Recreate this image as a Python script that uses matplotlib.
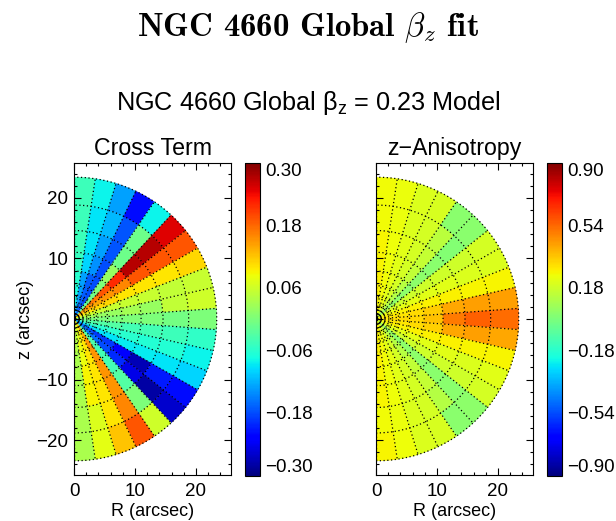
import numpy as np
import matplotlib
matplotlib.use("Agg")
import matplotlib.pyplot as plt
from matplotlib.patches import Wedge
from matplotlib.colors import Normalize
from matplotlib.cm import ScalarMappable

plt.rcParams['font.family'] = ['Liberation Sans', 'DejaVu Sans']
plt.rcParams['mathtext.fontset'] = 'custom'
plt.rcParams['mathtext.rm'] = 'Liberation Sans'
plt.rcParams['mathtext.it'] = 'Liberation Sans:italic'
plt.rcParams['mathtext.bf'] = 'Liberation Sans:bold'

# Polar bin grid (arcsec); sectors run from +90 deg (top) to -90 deg (bottom)
r_edges = [0.0, 0.15, 0.29, 0.52, 0.9, 1.5, 2.4, 3.7, 5.5, 7.9, 11.0, 14.6, 18.8, 23.4]
n_sectors = 21
theta_edges = np.linspace(90.0, -90.0, n_sectors + 1)

# Cross term per sector (rows, top -> bottom) and radial bin (inner -> outer)
cross_term = [
    [-0.08, -0.08, -0.08, -0.08, -0.08, -0.07, -0.07, -0.07, -0.06, -0.05, -0.045, -0.045, -0.045],
    [-0.12, -0.12, -0.12, -0.12, -0.12, -0.13, -0.13, -0.13, -0.13, -0.10, -0.09, -0.09, -0.08],
    [-0.15, -0.15, -0.15, -0.16, -0.16, -0.17, -0.17, -0.17, -0.17, -0.14, -0.13, -0.115, -0.13],
    [-0.16, -0.16, -0.17, -0.17, -0.18, -0.18, -0.18, -0.18, -0.18, -0.18, -0.175, -0.175, -0.22],
    [-0.06, -0.06, -0.05, -0.05, -0.04, -0.03, -0.02, -0.01, 0.00, 0.02, -0.01, -0.01, -0.08],
    [0.12, 0.12, 0.13, 0.14, 0.15, 0.15, 0.16, 0.17, 0.19, 0.22, 0.27, 0.27, 0.25],
    [0.12, 0.12, 0.12, 0.13, 0.13, 0.13, 0.14, 0.14, 0.15, 0.16, 0.19, 0.19, 0.19],
    [0.10, 0.10, 0.10, 0.10, 0.10, 0.10, 0.10, 0.11, 0.11, 0.10, 0.10, 0.10, 0.11],
    [0.06, 0.06, 0.06, 0.06, 0.06, 0.06, 0.06, 0.055, 0.055, 0.055, 0.055, 0.05, 0.055],
    [0.03, 0.03, 0.03, 0.03, 0.03, 0.03, 0.03, 0.02, 0.02, 0.03, 0.02, 0.05, 0.06],
    [-0.01, -0.01, -0.01, -0.01, 0.00, 0.00, 0.00, 0.00, 0.00, 0.00, 0.00, -0.005, 0.00],
    [-0.02, -0.02, -0.02, -0.02, -0.02, -0.02, -0.03, -0.03, -0.03, -0.04, -0.04, -0.045, -0.055],
    [-0.04, -0.04, -0.04, -0.05, -0.05, -0.05, -0.05, -0.06, -0.06, -0.06, -0.065, -0.065, -0.08],
    [-0.10, -0.10, -0.10, -0.10, -0.10, -0.10, -0.10, -0.09, -0.09, -0.085, -0.085, -0.09, -0.10],
    [-0.15, -0.15, -0.16, -0.16, -0.17, -0.17, -0.18, -0.19, -0.19, -0.23, -0.27, -0.21, -0.22],
    [-0.12, -0.12, -0.12, -0.13, -0.13, -0.14, -0.15, -0.16, -0.18, -0.20, -0.245, -0.28, -0.26],
    [-0.03, -0.03, -0.03, -0.03, -0.03, -0.03, -0.03, -0.035, -0.04, -0.04, -0.03, 0.00, 0.06],
    [0.10, 0.10, 0.11, 0.12, 0.13, 0.14, 0.14, 0.15, 0.15, 0.15, 0.15, 0.16, 0.19],
    [0.09, 0.09, 0.09, 0.09, 0.09, 0.09, 0.10, 0.10, 0.10, 0.10, 0.10, 0.10, 0.12],
    [0.06, 0.06, 0.06, 0.06, 0.06, 0.07, 0.07, 0.08, 0.08, 0.09, 0.09, 0.07, 0.075],
    [0.04, 0.04, 0.04, 0.04, 0.04, 0.04, 0.04, 0.04, 0.035, 0.035, 0.035, 0.035, 0.035],
]

# z-anisotropy per sector and radial bin
z_aniso = [
    [0.28, 0.28, 0.28, 0.28, 0.28, 0.28, 0.28, 0.28, 0.28, 0.27, 0.27, 0.26, 0.26],
    [0.28, 0.28, 0.27, 0.27, 0.27, 0.27, 0.26, 0.26, 0.26, 0.25, 0.25, 0.24, 0.24],
    [0.26, 0.26, 0.26, 0.25, 0.25, 0.24, 0.24, 0.23, 0.23, 0.22, 0.22, 0.21, 0.21],
    [0.22, 0.22, 0.21, 0.21, 0.20, 0.20, 0.20, 0.19, 0.19, 0.19, 0.19, 0.19, 0.20],
    [0.15, 0.15, 0.14, 0.13, 0.12, 0.12, 0.12, 0.12, 0.13, 0.15, 0.16, 0.14, 0.03],
    [0.09, 0.09, 0.08, 0.07, 0.06, 0.05, 0.05, 0.04, 0.04, 0.04, 0.03, 0.02, 0.03],
    [0.22, 0.22, 0.21, 0.20, 0.20, 0.19, 0.19, 0.18, 0.18, 0.18, 0.18, 0.18, 0.19],
    [0.26, 0.26, 0.26, 0.25, 0.25, 0.24, 0.24, 0.23, 0.23, 0.22, 0.22, 0.21, 0.21],
    [0.28, 0.28, 0.28, 0.28, 0.28, 0.28, 0.28, 0.28, 0.28, 0.28, 0.28, 0.27, 0.27],
    [0.28, 0.28, 0.28, 0.28, 0.29, 0.29, 0.30, 0.30, 0.32, 0.35, 0.42, 0.43, 0.43],
    [0.28, 0.28, 0.28, 0.29, 0.29, 0.30, 0.31, 0.32, 0.33, 0.37, 0.50, 0.55, 0.53],
    [0.28, 0.28, 0.28, 0.28, 0.29, 0.29, 0.30, 0.30, 0.32, 0.34, 0.42, 0.43, 0.42],
    [0.28, 0.28, 0.28, 0.28, 0.28, 0.28, 0.28, 0.28, 0.28, 0.28, 0.28, 0.27, 0.27],
    [0.26, 0.26, 0.26, 0.25, 0.25, 0.24, 0.24, 0.23, 0.23, 0.22, 0.22, 0.21, 0.22],
    [0.22, 0.22, 0.21, 0.20, 0.20, 0.19, 0.19, 0.18, 0.18, 0.18, 0.18, 0.18, 0.19],
    [0.09, 0.09, 0.08, 0.07, 0.06, 0.05, 0.05, 0.04, 0.04, 0.04, 0.03, 0.03, 0.04],
    [0.15, 0.15, 0.14, 0.13, 0.12, 0.12, 0.12, 0.12, 0.13, 0.15, 0.16, 0.12, 0.03],
    [0.22, 0.22, 0.21, 0.21, 0.20, 0.20, 0.20, 0.19, 0.19, 0.19, 0.19, 0.19, 0.20],
    [0.26, 0.26, 0.26, 0.25, 0.25, 0.24, 0.24, 0.23, 0.23, 0.22, 0.22, 0.21, 0.21],
    [0.28, 0.28, 0.27, 0.27, 0.27, 0.27, 0.26, 0.26, 0.26, 0.25, 0.25, 0.24, 0.25],
    [0.28, 0.28, 0.28, 0.28, 0.28, 0.28, 0.28, 0.28, 0.28, 0.27, 0.27, 0.26, 0.27],
]

cross_range = (-0.30, 0.30)
cross_ticks = [-0.30, -0.18, -0.06, 0.06, 0.18, 0.30]
aniso_range = (-0.90, 0.90)
aniso_ticks = [-0.90, -0.54, -0.18, 0.18, 0.54, 0.90]

W, H = 616, 521
fig = plt.figure(figsize=(W / 100, H / 100), dpi=100)
cmap = plt.get_cmap('jet')
r_max = r_edges[-1]
lim = 1.1 * r_max
TICK_FS = 13.5
LABEL_FS = 13


def fx(px):
    return px / W


def fy(py):
    return 1 - py / H


def polar_panel(ax, table, vrange):
    norm = Normalize(*vrange)
    for k, row in enumerate(table):
        t_hi, t_lo = theta_edges[k], theta_edges[k + 1]
        for i, v in enumerate(row):
            r0, r1 = r_edges[i], r_edges[i + 1]
            c = cmap(norm(v))
            ax.add_patch(Wedge((0, 0), r1, t_lo, t_hi, width=r1 - r0,
                               facecolor=c, edgecolor=c, lw=0.3, zorder=1))
    dots = dict(color='k', lw=0.9, ls=(0, (1, 2)), zorder=2, solid_capstyle='butt')
    t = np.radians(np.linspace(-90, 90, 721))
    for r in r_edges[1:]:
        ax.plot(r * np.cos(t), r * np.sin(t), **dots)
    for th in np.radians(theta_edges):
        ax.plot([r_edges[1] * np.cos(th), r_max * np.cos(th)],
                [r_edges[1] * np.sin(th), r_max * np.sin(th)], **dots)
    ax.set_xlim(0, lim)
    ax.set_ylim(-lim, lim)
    ax.set_xticks([0, 10, 20])
    ax.set_xticks(np.arange(0, 26, 2), minor=True)
    ax.set_yticks([-20, -10, 0, 10, 20])
    ax.set_yticks(np.arange(-24, 26, 2), minor=True)
    ax.tick_params(which='both', direction='in', top=True, right=True,
                   width=0.8, labelsize=TICK_FS)
    ax.tick_params(axis='x', pad=6)
    ax.tick_params(axis='y', pad=4)
    ax.tick_params(which='major', length=5)
    ax.tick_params(which='minor', length=2.5)
    for s in ax.spines.values():
        s.set_linewidth(0.8)
        s.set_zorder(5)
    ax.set_xlabel('R (arcsec)', fontsize=LABEL_FS)
    ax.xaxis.set_label_coords(0.5, -0.091)
    return norm


def colorbar(cax, norm, ticks):
    cb = fig.colorbar(ScalarMappable(norm=norm, cmap=cmap), cax=cax, ticks=ticks)
    cb.ax.tick_params(length=0, labelsize=TICK_FS, pad=3.5)
    cb.ax.set_yticklabels([('%.2f' % v).replace('-', '\u2212') for v in ticks])
    labels = cb.ax.get_yticklabels()
    labels[0].set_va('bottom')
    labels[-1].set_va('top')
    cb.outline.set_linewidth(0.8)
    return cb


ax_h = (475 - 163) / H
ax1 = fig.add_axes([fx(74), fy(475), fx(157), ax_h])
ax2 = fig.add_axes([fx(376), fy(475), fx(157), ax_h])
cax1 = fig.add_axes([fx(245), fy(475.5), fx(15), (475.5 - 162.7) / H])
cax2 = fig.add_axes([fx(547), fy(475.5), fx(15), (475.5 - 162.7) / H])

n1 = polar_panel(ax1, cross_term, cross_range)
n2 = polar_panel(ax2, z_aniso, aniso_range)
ax2.set_yticklabels([])
ax1.set_ylabel('z (arcsec)', fontsize=LABEL_FS)
ax1.yaxis.set_label_coords(-0.255, 0.5)
colorbar(cax1, n1, cross_ticks)
colorbar(cax2, n2, aniso_ticks)

ax1.set_title('Cross Term', fontsize=16.7, pad=5.5)
ax2.set_title('z\u2212Anisotropy', fontsize=16.7, pad=5.5)

fig.text(0.5, fy(103), r'NGC 4660 Global $\mathregular{\beta_z}$ = 0.23 Model',
         ha='center', va='center', fontsize=18.2)
fig.text(0.5, fy(28), r'NGC 4660 Global $\beta_z$ fit', ha='center', va='center',
         fontsize=23.6, family='cmb10', math_fontfamily='cm')

fig.savefig('out.png', dpi=100, facecolor='white')
